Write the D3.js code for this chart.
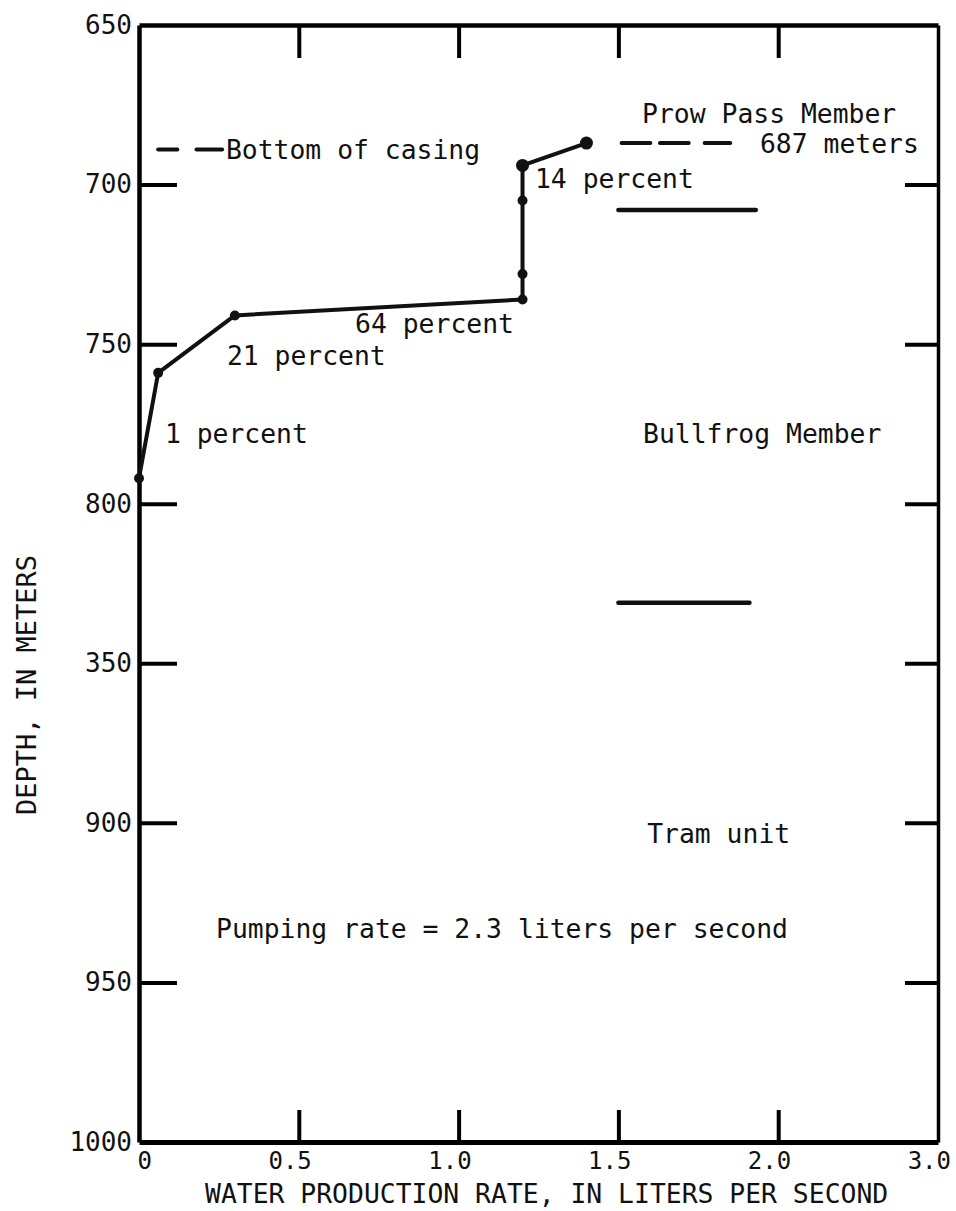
<!DOCTYPE html>
<html>
<head>
<meta charset="utf-8">
<script src="https://cdn.jsdelivr.net/npm/d3@7"></script>
<style>
  body { margin: 0; background: #fff; }
  text { font-family: "DejaVu Sans Mono", monospace; fill: #111; }
</style>
</head>
<body>
<div id="chart"></div>
<script>
// water production profile (rate in L/s, depth in m)
var rate  = [0, 0.06, 0.30, 1.20, 1.20, 1.20, 1.20, 1.40]
var depth = [792, 759, 741, 736, 728, 705, 694, 687]

// axis ticks and the labels as printed (850 printed as "350", 2.5 as "3.0")
var depthTicks  = [650, 700, 750, 800, 850, 900, 950, 1000]
var depthLabels = ["650", "700", "750", "800", "350", "900", "950", "1000"]
var rateTicks   = [0, 0.5, 1.0, 1.5, 2.0, 2.5]
var rateLabels  = ["0", "0.5", "1.0", "1.5", "2.0", "3.0"]

// contacts between members (solid lines)
var contactDepth = [708, 831]
var contactFrom  = [1.50, 1.50]
var contactTo    = [1.93, 1.91]

// bottom of casing dashes
var casingDepth  = [689, 689, 687, 687, 687]
var casingFrom   = [0.06, 0.18, 1.51, 1.63, 1.77]
var casingTo     = [0.12, 0.26, 1.60, 1.72, 1.85]

// annotations
var noteText  = ["Bottom of casing", "Prow Pass Member", "687 meters", "14 percent",
                 "64 percent", "21 percent", "1 percent", "Bullfrog Member",
                 "Tram unit", "Pumping rate = 2.3 liters per second"]
var noteRate  = [0.272, 1.574, 1.943, 1.239, 0.676, 0.275, 0.081, 1.577, 1.59, 0.241]
var noteDepth = [692, 680.7, 690, 701, 746.5, 756.5, 781, 781, 906.3, 936.1]

var W = 956, H = 1211
var x = d3.scaleLinear().domain([0, 2.5]).range([139, 938])
var y = d3.scaleLinear().domain([650, 1000]).range([25, 1142])

var svg = d3.select("#chart").append("svg")
    .attr("width", W)
    .attr("height", H)

var inner = depthTicks.slice(1, -1)
var innerX = rateTicks.slice(1, -1)

// left axis with labels
var leftAx = svg.append("g")
    .attr("transform", "translate(" + x(0) + ",0)")
    .call(d3.axisLeft(y).tickValues(depthTicks).tickSizeInner(0).tickSizeOuter(0)
      .tickPadding(7).tickFormat(function(d, i) { return depthLabels[i] }))
leftAx.select(".domain").attr("stroke-width", 4.5)
leftAx.selectAll("text").style("font-size", "26px").attr("fill", "#111")

// inward ticks on all four sides
svg.append("g").attr("transform", "translate(" + x(0) + ",0)")
    .call(d3.axisRight(y).tickValues(inner).tickSize(38).tickFormat(""))
    .call(function(g) { g.select(".domain").remove() })
    .selectAll("line").attr("stroke-width", 4)

var rightAx = svg.append("g").attr("transform", "translate(" + x(2.5) + ",0)")
    .call(d3.axisLeft(y).tickValues(inner).tickSize(33).tickSizeOuter(0).tickFormat(""))
rightAx.select(".domain").attr("stroke-width", 3.5)
rightAx.selectAll("line").attr("stroke-width", 4)

var topAx = svg.append("g").attr("transform", "translate(0," + y(650) + ")")
    .call(d3.axisBottom(x).tickValues(innerX).tickSize(33).tickSizeOuter(0).tickFormat(""))
topAx.select(".domain").attr("stroke-width", 4.5)
topAx.selectAll("line").attr("stroke-width", 4)

var bottomAx = svg.append("g").attr("transform", "translate(0," + y(1000) + ")")
    .call(d3.axisTop(x).tickValues(innerX).tickSize(32).tickSizeOuter(0).tickFormat(""))
bottomAx.select(".domain").attr("stroke-width", 5)
bottomAx.selectAll("line").attr("stroke-width", 4)

// bottom tick labels
svg.append("g").selectAll("text")
    .data(rateTicks)
  .enter().append("text")
    .attr("x", function(d) { return x(d) + 13 })
    .attr("y", y(1000) + 27)
    .attr("text-anchor", "end")
    .style("font-size", "24px")
    .text(function(d, i) { return rateLabels[i] })

// axis titles
svg.append("text")
    .attr("x", 205)
    .attr("y", 1203)
    .style("font-size", "26.4px")
    .text("WATER PRODUCTION RATE, IN LITERS PER SECOND")

svg.append("text")
    .attr("transform", "translate(36,685) rotate(-90)")
    .attr("text-anchor", "middle")
    .style("font-size", "27px")
    .text("DEPTH, IN METERS")

// casing dashes
svg.append("g").selectAll("line")
    .data(casingDepth)
  .enter().append("line")
    .attr("x1", function(d, i) { return x(casingFrom[i]) })
    .attr("x2", function(d, i) { return x(casingTo[i]) })
    .attr("y1", function(d) { return y(d) })
    .attr("y2", function(d) { return y(d) })
    .attr("stroke", "#111")
    .attr("stroke-width", 4)
    .attr("stroke-linecap", "round")

// contacts
svg.append("g").selectAll("line")
    .data(contactDepth)
  .enter().append("line")
    .attr("x1", function(d, i) { return x(contactFrom[i]) })
    .attr("x2", function(d, i) { return x(contactTo[i]) })
    .attr("y1", function(d) { return y(d) })
    .attr("y2", function(d) { return y(d) })
    .attr("stroke", "#111")
    .attr("stroke-width", 4.5)
    .attr("stroke-linecap", "round")

// the profile
var pts = rate.map(function(r, i) { return [r, depth[i]] })
var line = d3.line()
    .x(function(d) { return x(d[0]) })
    .y(function(d) { return y(d[1]) })

svg.append("path")
    .datum(pts)
    .attr("d", line)
    .attr("fill", "none")
    .attr("stroke", "#111")
    .attr("stroke-width", 4)
    .attr("stroke-linejoin", "round")

svg.append("g").selectAll("circle")
    .data(pts)
  .enter().append("circle")
    .attr("cx", function(d) { return x(d[0]) })
    .attr("cy", function(d) { return y(d[1]) })
    .attr("r", function(d, i) { return i >= 6 ? 6.5 : 5 })
    .attr("fill", "#111")

// annotations
svg.append("g").selectAll("text")
    .data(noteText)
  .enter().append("text")
    .attr("x", function(d, i) { return x(noteRate[i]) })
    .attr("y", function(d, i) { return y(noteDepth[i]) })
    .style("font-size", "26.4px")
    .text(function(d) { return d })
</script>
</body>
</html>
